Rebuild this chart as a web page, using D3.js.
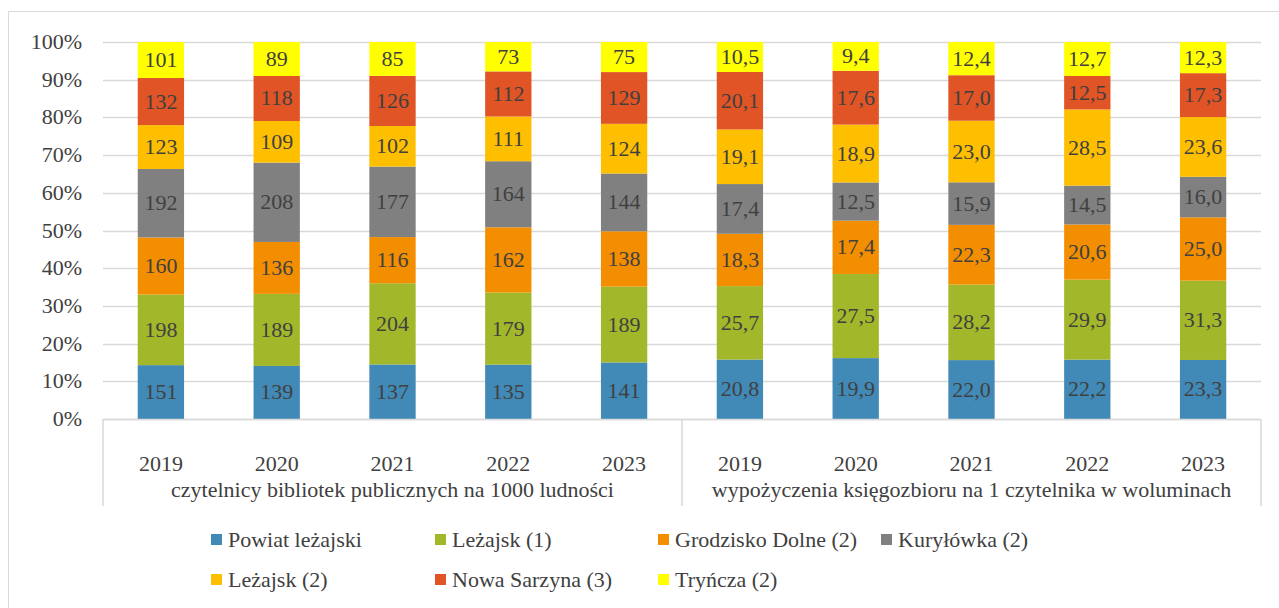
<!DOCTYPE html>
<html>
<head>
<meta charset="utf-8">
<script src="https://cdn.jsdelivr.net/npm/d3@7"></script>
<style>
  body { margin: 0; background: #fff; font-family: "Liberation Serif", "Times New Roman", serif; }
  svg { display: block; }
  svg text { font-family: "Liberation Serif", "Times New Roman", serif !important; }
</style>
</head>
<body>
<svg id="chart" width="1279" height="608" font-family="Liberation Serif"></svg>
<script>
const years = ["2019", "2020", "2021", "2022", "2023"];
const groups = [
  "czytelnicy bibliotek publicznych na 1000 ludności",
  "wypożyczenia księgozbioru na 1 czytelnika w woluminach"
];
const seriesNames = [
  "Powiat leżajski", "Leżajsk (1)", "Grodzisko Dolne (2)", "Kuryłówka (2)",
  "Leżajsk (2)", "Nowa Sarzyna (3)", "Tryńcza (2)"
];
const seriesColors = ["#4189b6", "#a2b82a", "#f28e00", "#808080", "#fdbf00", "#e05426", "#ffff00"];

// readers per 1000 inhabitants, 2019..2023
const readers = [
  [151, 139, 137, 135, 141],
  [198, 189, 204, 179, 189],
  [160, 136, 116, 162, 138],
  [192, 208, 177, 164, 144],
  [123, 109, 102, 111, 124],
  [132, 118, 126, 112, 129],
  [101, 89, 85, 73, 75]
];
// loans per reader (volumes), 2019..2023
const loans = [
  [20.8, 19.9, 22.0, 22.2, 23.3],
  [25.7, 27.5, 28.2, 29.9, 31.3],
  [18.3, 17.4, 22.3, 20.6, 25.0],
  [17.4, 12.5, 15.9, 14.5, 16.0],
  [19.1, 18.9, 23.0, 28.5, 23.6],
  [20.1, 17.6, 17.0, 12.5, 17.3],
  [10.5, 9.4, 12.4, 12.7, 12.3]
];
const yTicks = [0, 0.1, 0.2, 0.3, 0.4, 0.5, 0.6, 0.7, 0.8, 0.9, 1];

const serifFont = '"Liberation Serif", "Times New Roman", serif';
const fontSize = 22;
const textColor = "#404040";
const fmtLoan = d3.format(".1f");

const svg = d3.select("#chart");

function label(sel) {
  return sel
    .attr("font-family", "Liberation Serif")
    .style("font-family", serifFont, "important")
    .attr("font-size", fontSize)
    .attr("fill", textColor);
}

// outer chart frame (only left and top edges fall inside the picture)
svg.append("rect")
  .attr("x", 8.5).attr("y", 11.5)
  .attr("width", 1290).attr("height", 620)
  .attr("fill", "none").attr("stroke", "#d9d9d9");

const plotLeft = 103, plotRight = 1261, plotTop = 42, plotBottom = 419;

// flatten into 10 columns
const columns = [];
groups.forEach((g, gi) => {
  const src = gi === 0 ? readers : loans;
  years.forEach((yr, yi) => {
    const vals = seriesNames.map((s, si) => src[si][yi]);
    columns.push({ key: gi + "-" + yr, year: yr, group: gi, vals, loan: gi === 1 });
  });
});

const x = d3.scaleBand()
  .domain(columns.map(c => c.key))
  .range([plotLeft, plotRight])
  .paddingInner(0.6)
  .paddingOuter(0.3);

const y = d3.scaleLinear().domain([0, 1]).range([plotBottom, plotTop]);

// gridlines
svg.append("g")
  .selectAll("line")
  .data(yTicks)
  .join("line")
  .attr("x1", plotLeft).attr("x2", plotRight)
  .attr("y1", d => Math.round(y(d)) + 0.5)
  .attr("y2", d => Math.round(y(d)) + 0.5)
  .attr("stroke", "#d9d9d9")
  .attr("stroke-width", 1.5);

// y labels
svg.selectAll("text.ytick")
  .data(yTicks)
  .join("text")
  .attr("class", "ytick")
  .attr("x", 82)
  .attr("y", d => y(d) + 7)
  .attr("text-anchor", "end")
  .call(label)
  .text(d => d3.format(".0%")(d));

// stacked segments
columns.forEach(c => {
  const total = d3.sum(c.vals);
  let acc = 0;
  const segs = c.vals.map((v, i) => {
    const s = { y0: acc / total, y1: (acc + v) / total, v, i };
    acc += v;
    return s;
  });
  svg.selectAll(null)
    .data(segs)
    .join("rect")
    .attr("x", x(c.key))
    .attr("width", x.bandwidth())
    .attr("y", d => y(d.y1))
    .attr("height", d => y(d.y0) - y(d.y1))
    .attr("fill", d => seriesColors[d.i]);
  svg.selectAll(null)
    .data(segs)
    .join("text")
    .attr("x", x(c.key) + x.bandwidth() / 2)
    .attr("y", d => (y(d.y0) + y(d.y1)) / 2 + 7)
    .attr("text-anchor", "middle")
    .call(label)
    .text(d => c.loan ? fmtLoan(d.v).replace(".", ",") : d.v);
});

// multi-level category axis
const axisBottom = 506;
const mid = (x(columns[4].key) + x.bandwidth() + x(columns[5].key)) / 2;
const axis = svg.append("g").attr("stroke", "#d9d9d9").attr("stroke-width", 1.5);
axis.append("line").attr("x1", plotLeft).attr("x2", plotRight).attr("y1", plotBottom + 0.5).attr("y2", plotBottom + 0.5);
[plotLeft, mid, plotRight].forEach(xx => {
  axis.append("line").attr("x1", xx).attr("x2", xx).attr("y1", plotBottom).attr("y2", axisBottom);
});

svg.selectAll(null)
  .data(columns)
  .join("text")
  .attr("x", d => x(d.key) + x.bandwidth() / 2)
  .attr("y", 471)
  .attr("text-anchor", "middle")
  .call(label)
  .text(d => d.year);

svg.selectAll(null)
  .data(groups)
  .join("text")
  .attr("x", (d, i) => i === 0 ? (plotLeft + mid) / 2 : (mid + plotRight) / 2)
  .attr("y", 497)
  .attr("text-anchor", "middle")
  .call(label)
  .text(d => d);

// legend
const legendX = [211, 435, 658, 881];
svg.selectAll(null)
  .data(seriesNames)
  .join("rect")
  .attr("x", (d, i) => legendX[i % 4])
  .attr("y", (d, i) => (i < 4 ? 540 : 580) - 6)
  .attr("width", 11).attr("height", 11)
  .attr("fill", (d, i) => seriesColors[i]);
svg.selectAll(null)
  .data(seriesNames)
  .join("text")
  .attr("x", (d, i) => legendX[i % 4] + 17)
  .attr("y", (d, i) => (i < 4 ? 540 : 580) + 7)
  .call(label)
  .text(d => d);
</script>
</body>
</html>
